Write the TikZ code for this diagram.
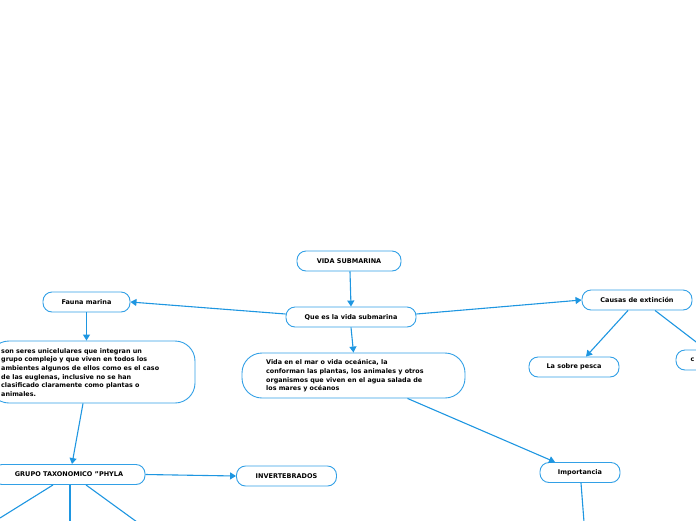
\documentclass[tikz,border=0pt]{standalone}
\usepackage{fontspec}
\setmainfont{DejaVu Sans}
\usetikzlibrary{arrows.meta}
\definecolor{lnblue}{RGB}{30,150,225}
\definecolor{bxblue}{RGB}{50,160,230}
\begin{document}
\begin{tikzpicture}[x=1pt,y=-1pt,
  box/.style={draw=bxblue,line width=0.9pt,rounded corners=9pt,fill=white,font=\bfseries\fontsize{6.5}{8.7}\selectfont,text=black,inner sep=0pt,anchor=center},
  txt/.style={font=\bfseries\fontsize{6.4}{8.7}\selectfont,align=left,anchor=north west,inner sep=0pt},
  con/.style={draw=lnblue,line width=1.1pt},
  arr/.style={con,-{Triangle[length=6pt,width=7pt]}}]
\useasboundingbox (0,0) rectangle (696,520);
% nodes
\node[box,minimum width=104pt,minimum height=20pt] (vida) at (349,261) {VIDA SUBMARINA};
\node[box,minimum width=130pt,minimum height=20pt] (que) at (351,317) {Que es la vida submarina};
\node[box,minimum width=87pt,minimum height=20pt] (fauna) at (86.5,302) {Fauna marina};
\node[box,minimum width=110pt,minimum height=20pt] (causas) at (637,300) {Causas de extinción};
\node[box,minimum width=90pt,minimum height=20pt] (pesca) at (574,367) {La sobre pesca};
\node[box,minimum width=100pt,minimum height=20pt,rounded corners=9pt] (cnode) at (726,360) {};
\node[txt,anchor=west] (ctxt) at (690.5,360) {c};
\node[box,minimum width=223pt,minimum height=45pt,rounded corners=20pt] (mar) at (353.5,375.5) {};
\node[txt] (martxt) at (266,359.5) {Vida en el mar o vida oceánica, la\\conforman las plantas, los animales y otros\\organismos que viven en el agua salada de\\los mares y océanos};
\node[box,minimum width=206pt,minimum height=62pt,rounded corners=20pt] (seres) at (92,372) {};
\node[txt] (serestxt) at (1,348) {son seres unicelulares que integran un\\grupo complejo y que viven en todos los\\ambientes algunos de ellos como es el caso\\de las euglenas, inclusive no se han\\clasificado claramente como plantas o\\animales.};
\node[box,minimum width=152pt,minimum height=20pt] (grupo) at (69,474.5) {GRUPO TAXONOMICO "PHYLA};
\node[box,minimum width=100pt,minimum height=20pt] (inver) at (286.5,476) {INVERTEBRADOS};
\node[box,minimum width=80pt,minimum height=20pt] (imp) at (580,472.5) {Importancia};
% free ends
\coordinate (g1) at (0,518);
\coordinate (g2) at (70,522);
\coordinate (g3) at (137,522);
\coordinate (i1) at (584,522);
% connectors
\draw[arr] (vida.south) ++(1,0) -- (que.north);
\draw[arr] (que.west) ++(0,-3) -- (fauna.east);
\draw[arr] (que.east) ++(0,-3) -- (causas.west);
\draw[arr] (que.south) -- (mar.north);
\draw[arr] (fauna.south) -- (seres.north -| fauna.south);
\draw[arr] ([xshift=-9pt]seres.south) -- ([xshift=3pt]grupo.north);
\draw[arr] (grupo.east) -- (inver.west);
\draw[arr] ([xshift=54pt]mar.south) -- ([xshift=-25pt]imp.north);
\draw[arr] ([xshift=-9pt]causas.south) -- ([xshift=12pt]pesca.north);
\draw[con] ([xshift=18pt]causas.south) -- ([xshift=-20pt]cnode.north);
\draw[con] ([xshift=-16pt]grupo.south) -- (g1);
\draw[con] ([xshift=1pt]grupo.south) -- (g2);
\draw[con] ([xshift=17pt]grupo.south) -- (g3);
\draw[con] ([xshift=1pt]imp.south) -- (i1);
\end{tikzpicture}
\end{document}
